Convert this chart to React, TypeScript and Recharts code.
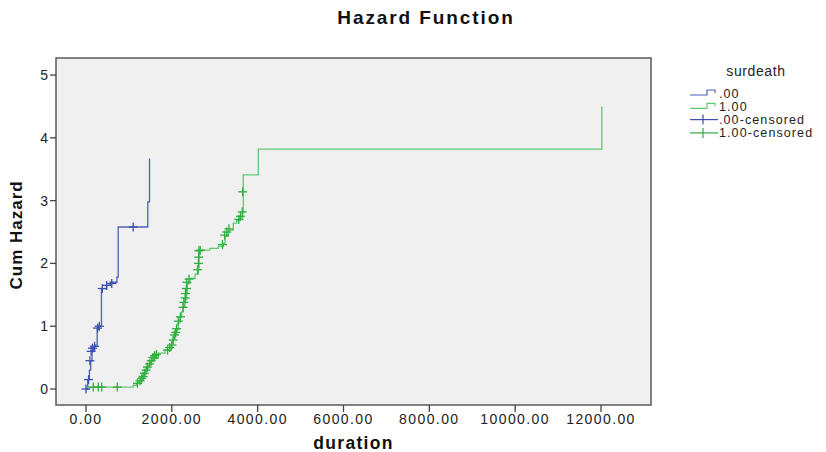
import { ComposedChart, Line, Scatter, XAxis, YAxis, CartesianGrid, ReferenceArea } from 'recharts';

// group .00 cumulative hazard steps
const blueTimes = [0, 40, 80, 110, 140, 180, 220, 260, 300, 360, 480, 560, 720, 750, 1440, 1480];
const blueHazard = [0, 0.15, 0.3, 0.45, 0.6, 0.68, 0.7, 0.95, 1.0, 1.6, 1.65, 1.7, 1.78, 2.58, 2.98, 3.67];

// group 1.00 cumulative hazard steps
const greenTimes = [
  0, 1100, 1181, 1240, 1298, 1340, 1375, 1410, 1452, 1510, 1568, 1685, 1841, 1957, 2000, 2034, 2080, 2113,
  2151, 2190, 2230, 2267, 2307, 2346, 2360, 2423, 2540, 2617, 2633, 2889, 3082, 3199, 3239, 3316, 3432, 3511,
  3588, 3651, 3665, 4015, 12020,
];
const greenHazard = [
  0.03, 0.06, 0.09, 0.13, 0.17, 0.22, 0.28, 0.33, 0.38, 0.44, 0.49, 0.57, 0.62, 0.67, 0.74, 0.81, 0.88, 0.94,
  1.05, 1.15, 1.23, 1.31, 1.42, 1.52, 1.68, 1.76, 1.83, 1.9, 2.21, 2.24, 2.27, 2.32, 2.43, 2.53, 2.64, 2.68,
  2.72, 2.8, 3.41, 3.82, 4.5,
];

// censored cases
const blueCensTimes = [0, 60, 90, 120, 150, 200, 270, 310, 380, 480, 600, 1100];
const blueCensHazard = [0, 0.15, 0.45, 0.6, 0.65, 0.68, 0.97, 1.0, 1.6, 1.65, 1.68, 2.58];

const greenCensTimes = [
  170, 287, 366, 729, 1200, 1260, 1300, 1330, 1360, 1400, 1430, 1480, 1520, 1560, 1600, 1640, 1900, 1950,
  2000, 2030, 2060, 2090, 2110, 2150, 2200, 2260, 2280, 2310, 2320, 2340, 2350, 2400, 2600, 2620, 2625, 2630,
  2660, 3180, 3230, 3280, 3330, 3560, 3600, 3640, 3650,
];
const greenCensHazard = [
  0.03, 0.03, 0.03, 0.03, 0.09, 0.13, 0.17, 0.2, 0.25, 0.3, 0.35, 0.4, 0.45, 0.5, 0.53, 0.55, 0.62, 0.66,
  0.7, 0.78, 0.86, 0.9, 0.96, 1.08, 1.15, 1.3, 1.38, 1.45, 1.52, 1.6, 1.7, 1.75, 1.9, 2.0, 2.1, 2.2,
  2.21, 2.3, 2.45, 2.5, 2.55, 2.7, 2.75, 2.82, 3.14,
];

const xTicks = [0, 2000, 4000, 6000, 8000, 10000, 12000];
const yTicks = [0, 1, 2, 3, 4, 5];
const legendLabels = ['.00', '1.00', '.00-censored', '1.00-censored'];

const zip = (ts: number[], hs: number[]) => ts.map((t, i) => ({ t, h: hs[i] }));
const blueData = zip(blueTimes, blueHazard);
const greenData = zip(greenTimes, greenHazard);
const blueCens = zip(blueCensTimes, blueCensHazard);
const greenCens = zip(greenCensTimes, greenCensHazard);

const BLUE = '#4d62b6';
const BLUE_MARK = '#3a4fae';
const GREEN = '#62c872';
const GREEN_MARK = '#2eae3f';
const FONT = 'Liberation Sans, Arial, sans-serif';

const cross = (color: string) => (p: any) => (
  <g stroke={color} strokeWidth={1.3}>
    <line x1={p.cx - 4.5} y1={p.cy} x2={p.cx + 4.5} y2={p.cy} />
    <line x1={p.cx} y1={p.cy - 4.5} x2={p.cx} y2={p.cy + 4.5} />
  </g>
);

function LegendBox() {
  const colors = [BLUE, GREEN, BLUE_MARK, GREEN_MARK];
  return (
    <svg width={146} height={92} style={{ position: 'absolute', left: 682, top: 61, fontFamily: FONT }}>
      <text x={74} y={15} fontSize={14} textAnchor="middle" fill="#222" letterSpacing={0.6}>surdeath</text>
      {legendLabels.map((lab, i) => {
        const y = 34 + i * 13.3;
        return (
          <g key={lab}>
            {i < 2 ? (
              <polyline points={`8,${y} 25,${y} 25,${y - 5} 33,${y - 5} 33,${y - 2}`} fill="none" stroke={colors[i]} strokeWidth={1.2} />
            ) : (
              <g stroke={colors[i]} strokeWidth={1.2}>
                <line x1={8} y1={y - 2} x2={36} y2={y - 2} />
                <line x1={21} y1={y - 7} x2={21} y2={y + 3} />
              </g>
            )}
            <text x={37} y={y + 2.5} fontSize={12.5} fill="#222" letterSpacing={1.1}>{lab}</text>
          </g>
        );
      })}
    </svg>
  );
}

export default function App() {
  return (
    <div style={{ position: 'absolute', left: 0, top: 0, width: 826, height: 452, background: '#fff', fontFamily: FONT }}>
      <div style={{ position: 'absolute', left: 0, top: 7, width: 852, textAlign: 'center', fontSize: 19, fontWeight: 'bold', letterSpacing: 1.9, color: '#111' }}>
        Hazard Function
      </div>
      <ComposedChart width={826} height={452} margin={{ top: 58, right: 175, bottom: 0, left: 0 }}>
        <CartesianGrid fill="#f0f0f0" horizontal={false} vertical={false} />
        <XAxis
          type="number"
          dataKey="t"
          domain={[-699, 13165]}
          allowDataOverflow
          ticks={xTicks}
          tickFormatter={(v: number) => v.toFixed(2)}
          tick={{ fontSize: 14, fill: '#222', letterSpacing: 1.4 }}
          tickSize={7}
          tickLine={{ stroke: '#444', strokeWidth: 1.3 }}
          axisLine={false}
          height={47}
          label={{ value: 'duration', position: 'insideBottom', offset: 3, fontSize: 17.5, fontWeight: 'bold', fill: '#111', letterSpacing: 1.3 }}
        />
        <YAxis
          type="number"
          dataKey="h"
          domain={[-0.2548, 5.271]}
          allowDataOverflow
          ticks={yTicks}
          tick={{ fontSize: 14, fill: '#222' }}
          tickSize={6}
          tickLine={{ stroke: '#444', strokeWidth: 1.3 }}
          axisLine={false}
          width={56}
          label={{ value: 'Cum Hazard', angle: -90, position: 'insideLeft', offset: 16, fontSize: 17, fontWeight: 'bold', fill: '#111', letterSpacing: 1, dy: 58 }}
        />
        <ReferenceArea x1={-699} x2={13165} y1={-0.2548} y2={5.271} fill="none" stroke="#5a5a5a" strokeWidth={1.5} />
        <Line data={blueData} dataKey="h" type="stepAfter" stroke={BLUE} strokeWidth={1.3} dot={false} isAnimationActive={false} />
        <Line data={greenData} dataKey="h" type="stepAfter" stroke={GREEN} strokeWidth={1.3} dot={false} isAnimationActive={false} />
        <Scatter data={blueCens} dataKey="h" shape={cross(BLUE_MARK)} isAnimationActive={false} />
        <Scatter data={greenCens} dataKey="h" shape={cross(GREEN_MARK)} isAnimationActive={false} />
      </ComposedChart>
      <LegendBox />
    </div>
  );
}
